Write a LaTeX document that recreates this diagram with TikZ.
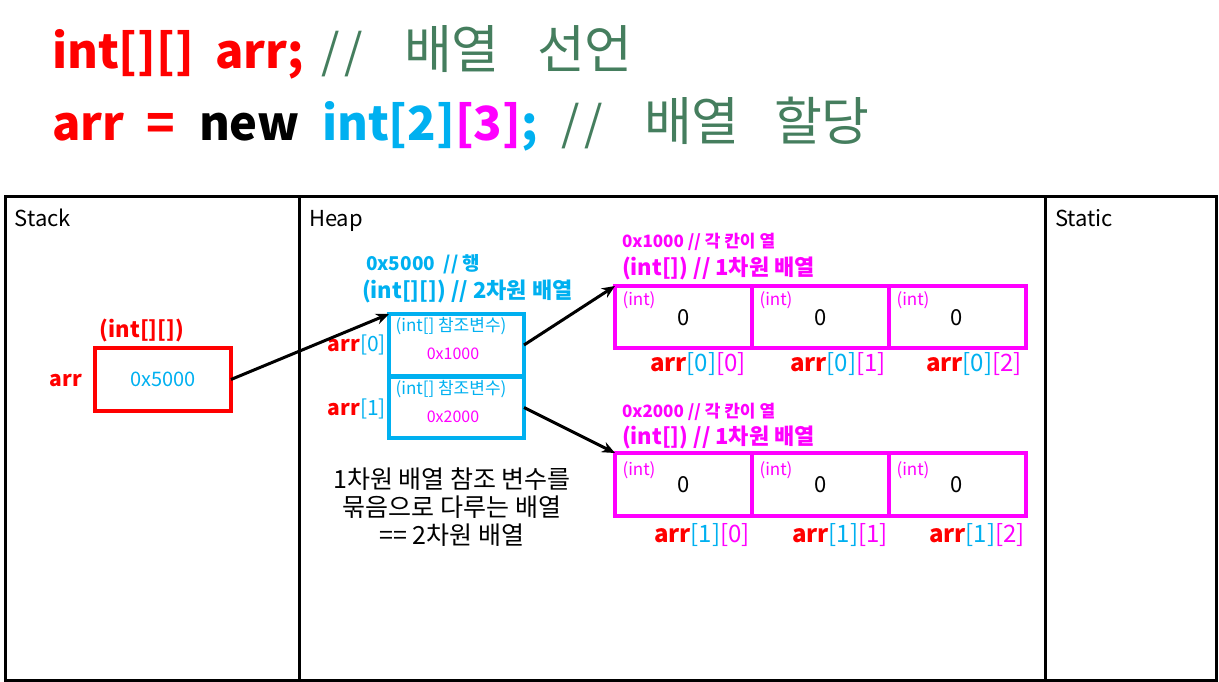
\documentclass[tikz,border=0pt]{standalone}
\usepackage{fontspec}
\setmainfont{Noto Sans CJK KR}
\usetikzlibrary{arrows.meta, positioning}

\definecolor{refcyan}{RGB}{0,176,240}
\definecolor{valmagenta}{RGB}{255,0,255}
\definecolor{cmtgreen}{RGB}{69,126,94}

% index label: arr[i][j]
\newcommand{\elemname}[2]{\textbf{\color{red}arr}{\color{refcyan}[#1]}{\color{valmagenta}[#2]}}
\newcommand{\fsz}[1]{\fontsize{#1}{#1}\selectfont}

\begin{document}
\begin{tikzpicture}[
		x=1pt, y=-1pt,
		every node/.style={inner sep=0pt, outer sep=0pt},
		area/.style={line width=3pt},
		stackbox/.style={draw=red, line width=4pt, minimum width=136pt, minimum height=63pt},
		refbox/.style={draw=refcyan, line width=4pt, minimum width=135pt, minimum height=62pt},
		cellbox/.style={draw=valmagenta, line width=4pt, minimum width=137pt, minimum height=62pt},
		ptr/.style={-{Stealth[length=13pt, width=11pt]}, line width=3pt},
		code/.style={font=\fsz{47}\bfseries, anchor=base west},
		comment/.style={font=\fsz{52}, text=cmtgreen, anchor=base west},
		areaname/.style={font=\fsz{22}, anchor=base west},
		inttag/.style={font=\fsz{17}, text=valmagenta},
		reftag/.style={font=\fsz{17}, text=refcyan},
		refval/.style={font=\fsz{16}, text=valmagenta},
		zero/.style={font=\fsz{22}},
		idx/.style={font=\fsz{24}}
		]
		\useasboundingbox (0,0) rectangle (1219,682);
		
		% === CODE LINES ===
		% int[][] arr; // 배열 선언
		\node[code, text=red] (declType) at (52,69) {int[][]};
		\node[code, text=red] (declName) at (215,69) {arr;};
		\node[comment, font=\fsz{47}] (declSlash) at (321,69) {/\hspace{5pt}/};
		\node[comment] (declWordA) at (404,69) {배열};
		\node[comment] (declWordB) at (537,69) {선언};
		
		% arr = new int[2][3]; // 배열 할당
		\node[code, text=red] (allocName) at (52,141) {arr};
		\node[code, text=red] (allocEq) at (146,141) {=};
		\node[code] (allocNew) at (199,141) {new};
		\node[code] (allocType) at (322,141) {{\color{refcyan}int[2]}{\color{valmagenta}[3]}{\color{refcyan};}};
		\node[comment, font=\fsz{47}] (allocSlash) at (561,141) {/\hspace{5pt}/};
		\node[comment] (allocWordA) at (644,141) {배열};
		\node[comment] (allocWordB) at (774,141) {할당};
		
		% === MEMORY AREAS ===
		\draw[area] (5,197) rectangle (1216,680);
		\draw[area] (299,197) -- (299,680);
		\draw[area] (1045,197) -- (1045,680);
		\node[areaname] (stacklbl) at (15,226) {Stack};
		\node[areaname] (heaplbl) at (309,226) {Heap};
		\node[areaname] (staticlbl) at (1055,226) {Static};
		
		% === STACK ===
		\node[stackbox, font=\fsz{20}, text=refcyan] (arrbox) at (163,379.5) {0x5000};
		\node[font=\fsz{22}\bfseries, text=red] (arrtype) at (142,331) {(int[][])};
		\node[font=\fsz{21}\bfseries, text=red] (arrname) at (66,381) {arr};
		
		% === HEAP: 2D array of references ===
		\node[font=\fsz{19}\bfseries, text=refcyan, anchor=west] (rowaddr) at (366,264) {0x5000 \ // 행};
		\node[font=\fsz{22}\bfseries, text=refcyan, anchor=west] (rowtype) at (362,291) {(int[][]) // 2차원 배열};
		\node[refbox] (ref0) at (456.5,345) {};
		\node[refbox, minimum height=61pt] (ref1) at (456.5,407.5) {};
		\node[reftag] (ref0tag) at (451,326) {(int[] 참조변수)};
		\node[refval] (ref0val) at (453,354) {0x1000};
		\node[reftag] (ref1tag) at (451,389) {(int[] 참조변수)};
		\node[refval] (ref1val) at (453,417) {0x2000};
		\node[font=\fsz{21}, anchor=east] (ref0name) at (386,345) {\textbf{\color{red}arr}{\color{refcyan}[0]}};
		\node[font=\fsz{21}, anchor=east] (ref1name) at (386,409) {\textbf{\color{red}arr}{\color{refcyan}[1]}};
		
		\node[font=\fsz{25}, align=center] (note) at (452,507) {1차원 배열 참조 변수를\\[3pt]묶음으로 다루는 배열\\[3pt]== 2차원 배열};
		
		% === HEAP: 1D arrays of int ===
		% row 0
		\node[font=\fsz{17}\bfseries, text=valmagenta, anchor=west] (row0addr) at (622,242) {0x1000 // 각 칸이 열};
		\node[font=\fsz{22}\bfseries, text=valmagenta, anchor=west] (row0type) at (622,268) {(int[]) // 1차원 배열};
		\node[cellbox] (c00) at (683.5,317) {};
		\node[cellbox] (c01) at (820.5,317) {};
		\node[cellbox] (c02) at (957,317) {};
		\node[inttag] (t00) at (639,300) {(int)};
		\node[inttag] (t01) at (776,300) {(int)};
		\node[inttag] (t02) at (913,300) {(int)};
		\node[zero] (v00) at (684,318) {0};
		\node[zero] (v01) at (821,318) {0};
		\node[zero] (v02) at (957,318) {0};
		\node[idx] (n00) at (698,364) {\elemname{0}{0}};
		\node[idx] (n01) at (838,364) {\elemname{0}{1}};
		\node[idx] (n02) at (974,364) {\elemname{0}{2}};
		
		% row 1
		\node[font=\fsz{17}\bfseries, text=valmagenta, anchor=west] (row1addr) at (622,412) {0x2000 // 각 칸이 열};
		\node[font=\fsz{22}\bfseries, text=valmagenta, anchor=west] (row1type) at (622,437) {(int[]) // 1차원 배열};
		\node[cellbox, minimum height=63pt] (c10) at (683.5,484.5) {};
		\node[cellbox, minimum height=63pt] (c11) at (820.5,484.5) {};
		\node[cellbox, minimum height=63pt] (c12) at (957,484.5) {};
		\node[inttag] (t10) at (639,470) {(int)};
		\node[inttag] (t11) at (776,470) {(int)};
		\node[inttag] (t12) at (913,470) {(int)};
		\node[zero] (v10) at (684,485) {0};
		\node[zero] (v11) at (821,485) {0};
		\node[zero] (v12) at (957,485) {0};
		\node[idx] (n10) at (702,535) {\elemname{1}{0}};
		\node[idx] (n11) at (840,535) {\elemname{1}{1}};
		\node[idx] (n12) at (977,535) {\elemname{1}{2}};
		
		% === REFERENCE ARROWS ===
		\draw[ptr] (arrbox.east) -- (ref0.north west);
		\draw[ptr] (ref0.east) -- (c00.north west);
		\draw[ptr] (ref1.east) -- (c10.north west);
		
	\end{tikzpicture}
\end{document}
